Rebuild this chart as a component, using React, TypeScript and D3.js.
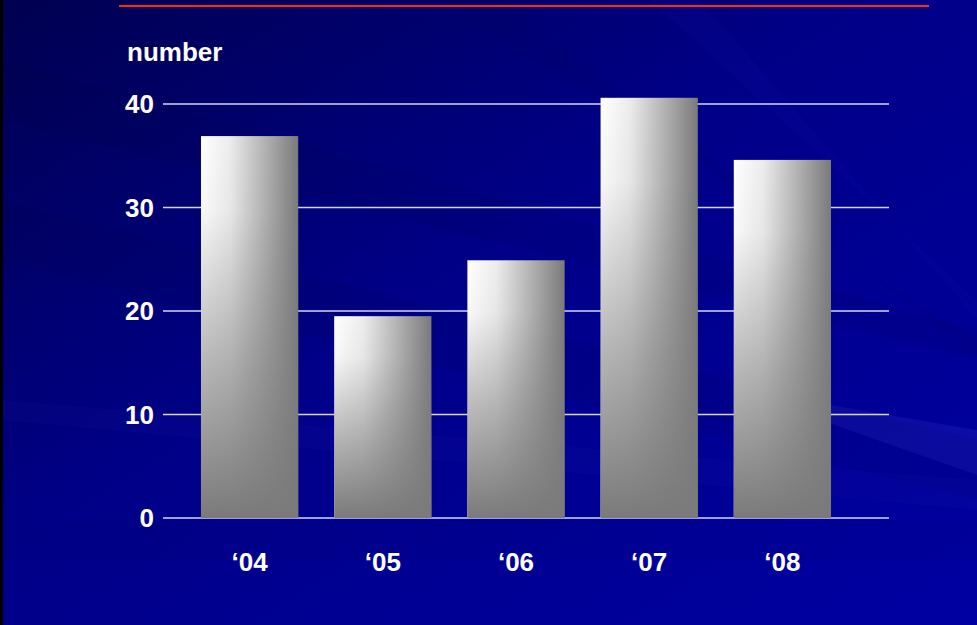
import React from "react";
import * as d3 from "d3";

const categories = ["‘04", "‘05", "‘06", "‘07", "‘08"];
const values = [36.9, 19.5, 24.9, 40.6, 34.6];
const yTicks = [0, 10, 20, 30, 40];
const yLabel = "number";

const W = 977;
const H = 625;

export default function App() {
  const x = d3.scaleBand<string>().domain(categories).range([183, 849]).paddingInner(0.27).paddingOuter(0.135);
  const y = d3.scaleLinear().domain([0, 40]).range([518, 104]);
  const font = "'Liberation Sans', Arial, sans-serif";

  const rays = [
    { pts: "977,330 977,360 0,120 0,60", op: 0.07, c: "#000030" },
    { pts: "977,430 977,475 820,420 830,405", op: 0.12, c: "#6060ff" },
    { pts: "977,440 977,500 0,260 0,200", op: 0.08, c: "#000030" },
    { pts: "977,480 977,510 0,420 0,400", op: 0.06, c: "#3030c0" },
    { pts: "977,300 977,320 700,0 650,0", op: 0.07, c: "#2020c0" },
    { pts: "977,340 977,355 500,0 440,0", op: 0.06, c: "#000040" },
    { pts: "977,520 977,560 0,560 0,520", op: 0.05, c: "#000050" },
  ];

  return (
    <svg width={W} height={H} style={{ position: "absolute", left: 0, top: 0, display: "block" }}>
      <defs>
        <linearGradient id="bg" x1="0" y1="0" x2="1" y2="1">
          <stop offset="0" stopColor="#000050" />
          <stop offset="0.45" stopColor="#000088" />
          <stop offset="1" stopColor="#0000a2" />
        </linearGradient>
        <linearGradient id="barH" x1="0" y1="0" x2="1" y2="0">
          <stop offset="0" stopColor="#ffffff" />
          <stop offset="0.3" stopColor="#ececec" />
          <stop offset="1" stopColor="#7a7a7a" />
        </linearGradient>
        <linearGradient id="barV" x1="0" y1="0" x2="0" y2="1">
          <stop offset="0" stopColor="#7c7c7c" stopOpacity="0" />
          <stop offset="0.2" stopColor="#7c7c7c" stopOpacity="0.05" />
          <stop offset="0.6" stopColor="#7c7c7c" stopOpacity="0.55" />
          <stop offset="1" stopColor="#7a7a7a" stopOpacity="1" />
        </linearGradient>
      </defs>
      <rect x={0} y={0} width={W} height={H} fill="url(#bg)" />
      {rays.map((r, i) => (
        <polygon key={i} points={r.pts} fill={r.c} opacity={r.op} />
      ))}
      <rect x={0} y={0} width={3} height={H} fill="#000000" />
      <line x1={119} x2={929} y1={6} y2={6} stroke="#ff2a10" strokeWidth={2} />
      <text x={127} y={61} fill="#ffffff" fontFamily={font} fontWeight="bold" fontSize={26}>{yLabel}</text>
      {yTicks.map((t) => (
        <g key={t}>
          <line x1={163} x2={889} y1={y(t)} y2={y(t)} stroke="#d4d4f4" strokeWidth={1.6} />
          <text x={154} y={y(t) + 9} textAnchor="end" fill="#ffffff" fontFamily={font} fontWeight="bold" fontSize={26}>{t}</text>
        </g>
      ))}
      {categories.map((c, i) => {
        const bx = x(c)!;
        const by = y(values[i]);
        const bh = y(0) - by;
        return (
          <g key={c}>
            <rect x={bx} y={by} width={x.bandwidth()} height={bh} fill="url(#barH)" />
            <rect x={bx} y={by} width={x.bandwidth()} height={bh} fill="url(#barV)" />
            <text x={bx + x.bandwidth() / 2} y={571} textAnchor="middle" fill="#ffffff" fontFamily={font} fontWeight="bold" fontSize={26}>{c}</text>
          </g>
        );
      })}
    </svg>
  );
}
